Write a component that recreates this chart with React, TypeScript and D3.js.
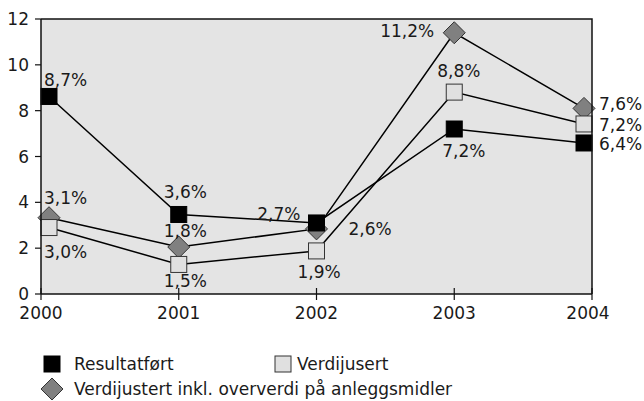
import React from 'react';
import { scaleLinear, line } from 'd3';

const width = 644;
const height = 401;

const years = [2000, 2001, 2002, 2003, 2004];
const yTicks = [0, 2, 4, 6, 8, 10, 12];

// plotted positions and the printed labels
const resultatfort = [8.62, 3.47, 3.1, 7.2, 6.59];
const resultatfortLabels = ['8,7%', '3,6%', '2,7%', '7,2%', '6,4%'];
const verdijusert = [2.9, 1.29, 1.88, 8.81, 7.42];
const verdijusertLabels = ['3,0%', '1,5%', '1,9%', '8,8%', '7,2%'];
const inklOververdi = [3.33, 2.05, 2.84, 11.4, 8.1];
const inklOververdiLabels = ['3,1%', '1,8%', '2,6%', '11,2%', '7,6%'];

// label placement relative to marker centre: [dx, dy, anchor]
const offsetsBlack: [number, number, string][] = [
    [-5, -10, 'start'], [-15, -16, 'start'], [-16, -3, 'end'], [-12, 28, 'start'], [15, 7, 'start']
];
const offsetsLight: [number, number, string][] = [
    [-5, 30, 'start'], [-15, 23, 'start'], [-19, 27, 'start'], [-17, -15, 'start'], [15, 7, 'start']
];
const offsetsDiamond: [number, number, string][] = [
    [-5, -14, 'start'], [-15, -10, 'start'], [32, 6, 'start'], [-20, 4, 'end'], [15, 2, 'start']
];

const margin = { left: 41, right: 52, top: 19, bottom: 107 };
const plotW = width - margin.left - margin.right;
const plotH = height - margin.top - margin.bottom;

const x = scaleLinear().domain([2000, 2004]).range([margin.left, margin.left + plotW]);
const y = scaleLinear().domain([0, 12]).range([margin.top + plotH, margin.top]);

const half = 8;
const mx = (yr: number) => Math.min(Math.max(x(yr), margin.left + half), margin.left + plotW - half);

const font = '"DejaVu Sans", sans-serif';
const fontSize = 17;
const ink = '#1a1a1a';

type Kind = 'black' | 'light' | 'diamond';

function Marker({ cx, cy, kind }: { cx: number; cy: number; kind: Kind }) {
    if (kind === 'diamond') {
        const r = 11;
        return <path d={`M${cx},${cy - r}L${cx + r},${cy}L${cx},${cy + r}L${cx - r},${cy}Z`}
            fill="#808080" stroke="#333" strokeWidth={1} />;
    }
    return <rect x={cx - half} y={cy - half} width={half * 2} height={half * 2}
        fill={kind === 'black' ? '#000' : '#e0e0e0'} stroke={kind === 'black' ? '#000' : '#333'} strokeWidth={1} />;
}

const series: { values: number[]; labels: string[]; offsets: [number, number, string][]; kind: Kind }[] = [
    { values: inklOververdi, labels: inklOververdiLabels, offsets: offsetsDiamond, kind: 'diamond' },
    { values: verdijusert, labels: verdijusertLabels, offsets: offsetsLight, kind: 'light' },
    { values: resultatfort, labels: resultatfortLabels, offsets: offsetsBlack, kind: 'black' },
];

export default function App() {
    const path = line<number>()
        .x((_, i) => mx(years[i]))
        .y(d => y(d));

    return (
        <svg width={width} height={height} style={{ position: 'absolute', left: 0, top: 0 }}
            fontFamily={font} fontSize={fontSize}>
            <rect x={margin.left} y={margin.top} width={plotW} height={plotH} fill="#e4e4e4" />

            {series.map(s => (
                <g key={s.kind}>
                    <path d={path(s.values) || ''} fill="none" stroke="#000" strokeWidth={1.5} />
                    {s.values.map((v, i) => (
                        <Marker key={i} cx={mx(years[i])} cy={y(v)} kind={s.kind} />
                    ))}
                </g>
            ))}

            {series.map(s => s.values.map((v, i) => (
                <text key={s.kind + i} x={mx(years[i]) + s.offsets[i][0]} y={y(v) + s.offsets[i][1]}
                    textAnchor={s.offsets[i][2]} fill={ink}>{s.labels[i]}</text>
            )))}

            {/* frame */}
            <path d={`M${margin.left},${margin.top}H${margin.left + plotW}V${margin.top + plotH}`}
                fill="none" stroke="#111" strokeWidth={1.5} />
            <line x1={margin.left} x2={margin.left} y1={margin.top} y2={margin.top + plotH} stroke="#111" strokeWidth={1.5} />
            <line x1={margin.left} x2={margin.left + plotW} y1={margin.top + plotH} y2={margin.top + plotH} stroke="#111" strokeWidth={1.5} />

            {yTicks.map(t => (
                <g key={t}>
                    <line x1={margin.left - 6} x2={margin.left} y1={y(t)} y2={y(t)} stroke="#111" strokeWidth={1.2} />
                    <text x={margin.left - 12} y={y(t)} dy="0.36em" textAnchor="end" fill={ink}>{t}</text>
                </g>
            ))}
            {years.map(yr => (
                <g key={yr}>
                    <line x1={x(yr)} x2={x(yr)} y1={y(0) - 6} y2={y(0) + 6} stroke="#111" strokeWidth={1.2} />
                    <text x={x(yr) - (yr === 2004 ? 4 : 0)} y={y(0) + 25} textAnchor="middle" fill={ink}>{yr}</text>
                </g>
            ))}

            {/* legend */}
            <g>
                <Marker cx={52} cy={364} kind="black" />
                <text x={74} y={370} fill={ink}>Resultatført</text>
                <Marker cx={283} cy={364} kind="light" />
                <text x={297} y={370} fill={ink}>Verdijusert</text>
                <Marker cx={52} cy={389} kind="diamond" />
                <text x={74} y={395} fill={ink}>Verdijustert inkl. oververdi på anleggsmidler</text>
            </g>
        </svg>
    );
}
